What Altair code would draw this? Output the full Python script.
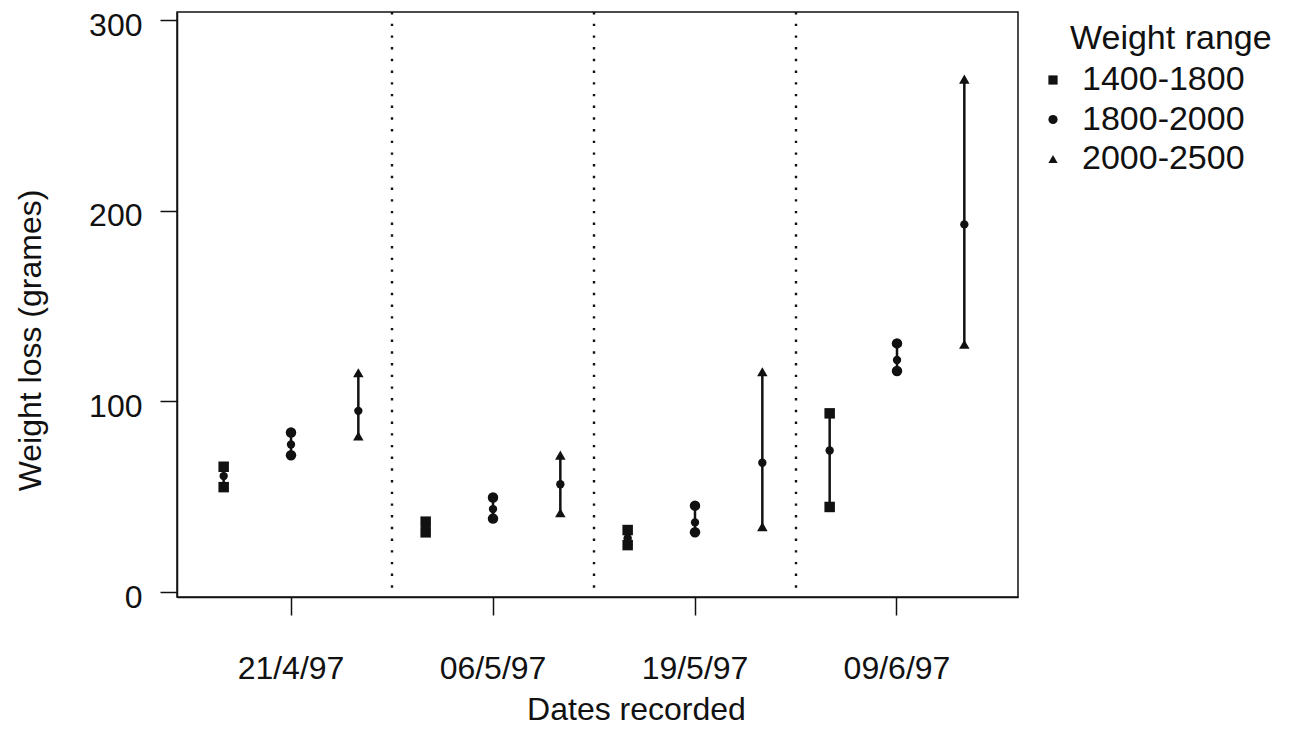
import altair as alt
import pandas as pd

# ---- data ----
dates = ["21/4/97", "06/5/97", "19/5/97", "09/6/97"]
ranges = ["1400-1800", "1800-2000", "2000-2500"]

mean_1400 = [60.8, 34.0, 28.2, 74.2]
low_1400 = [55.0, 31.3, 24.6, 44.6]
high_1400 = [65.7, 36.9, 32.5, 93.7]

mean_1800 = [77.4, 43.5, 36.5, 121.7]
low_1800 = [71.7, 38.5, 31.3, 115.9]
high_1800 = [83.7, 49.6, 45.3, 130.4]

mean_2000 = [95.0, 56.5, 67.8, 192.8]
low_2000 = [81.8, 41.6, 34.3, 129.9]
high_2000 = [115.0, 71.8, 115.5, 269.0]

y_ticks = [0, 100, 200, 300]

series = {
    "1400-1800": (mean_1400, low_1400, high_1400),
    "1800-2000": (mean_1800, low_1800, high_1800),
    "2000-2500": (mean_2000, low_2000, high_2000),
}
rows = []
for r in ranges:
    m, lo, hi = series[r]
    for d, mm, l, h in zip(dates, m, lo, hi):
        rows.append({"date": d, "range": r, "mean": mm, "low": l, "high": h})
df = pd.DataFrame(rows)
sep_df = pd.DataFrame({"date": dates[1:]})

FONT = "Liberation Sans"
INK = "#111111"

xscale = alt.Scale(type="band", domain=dates, paddingInner=0,
                   paddingOuter=0.0817, align=0.394)
yscale = alt.Scale(domain=[-2.62, 304.2], nice=False, zero=False)
offscale = alt.Scale(type="point", domain=ranges, padding=0.5)
shape_scale = alt.Scale(domain=ranges, range=["square", "circle", "triangle-up"])

x_axis = alt.Axis(title="Dates recorded", labelAngle=0, tickSize=18,
                  labelPadding=38, labelFontSize=32, titleFontSize=32,
                  titleFontWeight="normal", titleX=459, titleY=97,
                  titleBaseline="top", titleAnchor="start", titleAlign="center")
y_axis = alt.Axis(title="Weight loss (grames)", values=y_ticks, tickSize=17,
                  labelPadding=18, labelFontSize=32, labelOffset=5,
                  titleFontSize=32,
                  titleFontWeight="normal", titleX=-147, titleY=328,
                  titleBaseline="middle", titleAlign="center", titleAnchor="start")

X = alt.X("date:N", scale=xscale, sort=dates, axis=x_axis)
XO = alt.XOffset("range:N", scale=offscale, sort=ranges)

separators = alt.Chart(sep_df).mark_rule(
    color=INK, strokeWidth=2.4, strokeDash=[2.4, 9.3]
).encode(
    x=alt.X("date:N", scale=xscale, sort=dates, bandPosition=0, axis=x_axis)
)

bars = alt.Chart(df).mark_rule(color=INK, strokeWidth=2.5).encode(
    x=X, xOffset=XO,
    y=alt.Y("low:Q", scale=yscale, axis=y_axis),
    y2="high:Q",
)

ends = alt.Chart(df).transform_fold(
    ["low", "high"], as_=["which", "value"]
).mark_point(filled=True, color=INK, opacity=1, size=110).encode(
    x=X, xOffset=XO,
    y=alt.Y("value:Q", scale=yscale, axis=y_axis),
    shape=alt.Shape("range:N", scale=shape_scale, sort=ranges,
                    legend=alt.Legend(title="Weight range")),
)

means = alt.Chart(df).mark_point(filled=True, color=INK, opacity=1,
                                 size=70, shape="circle").encode(
    x=X, xOffset=XO,
    y=alt.Y("mean:Q", scale=yscale, axis=y_axis),
)

chart = alt.layer(separators, bars, ends, means).properties(
    width=841, height=585,
    autosize=alt.AutoSizeParams(type="none"),
    padding={"left": 169, "top": 4, "right": 260, "bottom": 140},
).configure(
    font=FONT,
).configure_view(
    stroke=INK, strokeWidth=1.5,
).configure_axis(
    grid=False, domainColor=INK, domainWidth=1.5, tickColor=INK, tickWidth=1.5,
    labelColor=INK, titleColor=INK, labelFont=FONT, titleFont=FONT,
).configure_legend(
    orient="none", legendX=893, legendY=9.5, padding=0,
    titleFontSize=34, labelFontSize=34, titleFontWeight="normal",
    titleColor=INK, labelColor=INK, titleFont=FONT, labelFont=FONT,
    titleLimit=500, labelLimit=500,
    symbolOffset=-34, labelOffset=12, titlePadding=7.5, rowPadding=5.5,
    symbolSize=85, symbolFillColor=INK, symbolStrokeColor=INK,
    symbolType="circle",
)

chart.save("out.html", embed_options={"renderer": "svg", "actions": False})
